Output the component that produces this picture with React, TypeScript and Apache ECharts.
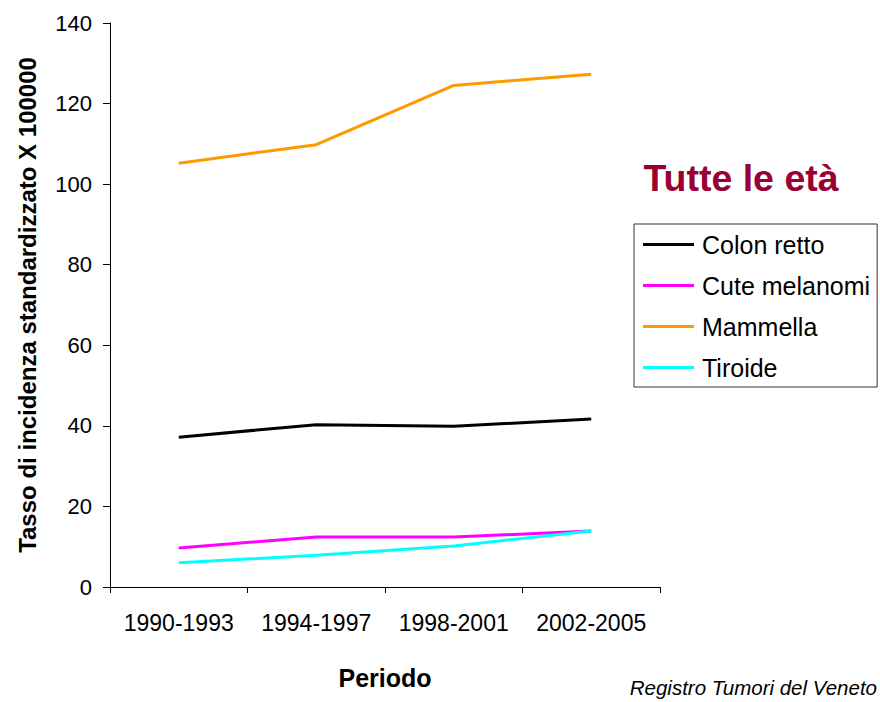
import React, { useEffect, useRef } from "react";
import * as echarts from "echarts";

const periods = ["1990-1993", "1994-1997", "1998-2001", "2002-2005"];
const colonRetto = [37.2, 40.3, 39.9, 41.7];
const cuteMelanomi = [9.7, 12.4, 12.4, 13.9];
const mammella = [105.2, 109.8, 124.5, 127.3];
const tiroide = [6.0, 7.9, 10.2, 13.9];
const yTicks = { min: 0, max: 140, interval: 20 };

const FONT = "'Liberation Sans', Arial, Helvetica, sans-serif";

export default function App() {
  const ref = useRef<HTMLDivElement>(null);
  useEffect(() => {
    document.body.style.margin = "0";
    if (!ref.current) return;
    const chart = echarts.init(ref.current, null, { renderer: "svg" });
    const mk = (name: string, data: number[], color: string) => ({
      name,
      type: "line",
      data,
      symbol: "none",
      showSymbol: false,
      lineStyle: { color, width: 3 },
      itemStyle: { color },
      z: 3,
    });
    chart.setOption({
      animation: false,
      backgroundColor: "#ffffff",
      textStyle: { fontFamily: FONT },
      grid: { left: 110, top: 23, width: 550, height: 564, containLabel: false },
      xAxis: {
        type: "category",
        data: periods,
        boundaryGap: true,
        name: "Periodo",
        nameLocation: "middle",
        nameGap: 78,
        nameTextStyle: { fontFamily: FONT, fontSize: 25, fontWeight: "bold", color: "#000" },
        axisLine: { show: true, lineStyle: { color: "#000", width: 1 } },
        axisTick: { show: true, interval: 0, length: 6, lineStyle: { color: "#000" } },
        axisLabel: {
          interval: 0,
          hideOverlap: false,
          fontFamily: FONT,
          fontSize: 23,
          color: "#000",
          margin: 24,
        },
        splitLine: { show: false },
      },
      yAxis: {
        type: "value",
        min: yTicks.min,
        max: yTicks.max,
        interval: yTicks.interval,
        name: "Tasso di incidenza standardizzato X 100000",
        nameLocation: "middle",
        nameRotate: 90,
        nameGap: 71,
        nameTextStyle: { fontFamily: FONT, fontSize: 24, fontWeight: "bold", color: "#000" },
        axisLine: { show: true, lineStyle: { color: "#000", width: 1 } },
        axisTick: { show: true, length: 7, lineStyle: { color: "#000" } },
        axisLabel: { fontFamily: FONT, fontSize: 22, color: "#000", margin: 18 },
        splitLine: { show: false },
      },
      legend: {
        orient: "vertical",
        left: 634,
        top: 224,
        padding: [8, 7, 7, 9],
        icon: "rect",
        itemWidth: 51,
        itemHeight: 3,
        itemGap: 16,
        borderColor: "#333",
        borderWidth: 1,
        textStyle: { fontFamily: FONT, fontSize: 25, color: "#000", padding: [0, 0, 0, 3] },
        data: ["Colon retto", "Cute melanomi", "Mammella", "Tiroide"],
      },
      graphic: [
        {
          type: "text",
          x: 741,
          y: 178,
          style: {
            text: "Tutte le età",
            fontFamily: FONT,
            fontSize: 37.5,
            fontWeight: "bold",
            fill: "#990033",
            align: "center",
            verticalAlign: "middle",
          },
        },
        {
          type: "text",
          x: 877,
          y: 687,
          style: {
            text: "Registro Tumori del Veneto",
            fontFamily: FONT,
            fontSize: 20.5,
            fontStyle: "italic",
            fill: "#000",
            align: "right",
            verticalAlign: "middle",
          },
        },
      ],
      series: [
        mk("Colon retto", colonRetto, "#000000"),
        mk("Cute melanomi", cuteMelanomi, "#ff00ff"),
        mk("Mammella", mammella, "#ff9900"),
        mk("Tiroide", tiroide, "#00ffff"),
      ],
    });
    return () => chart.dispose();
  }, []);
  return <div ref={ref} style={{ width: 880, height: 702 }} />;
}
